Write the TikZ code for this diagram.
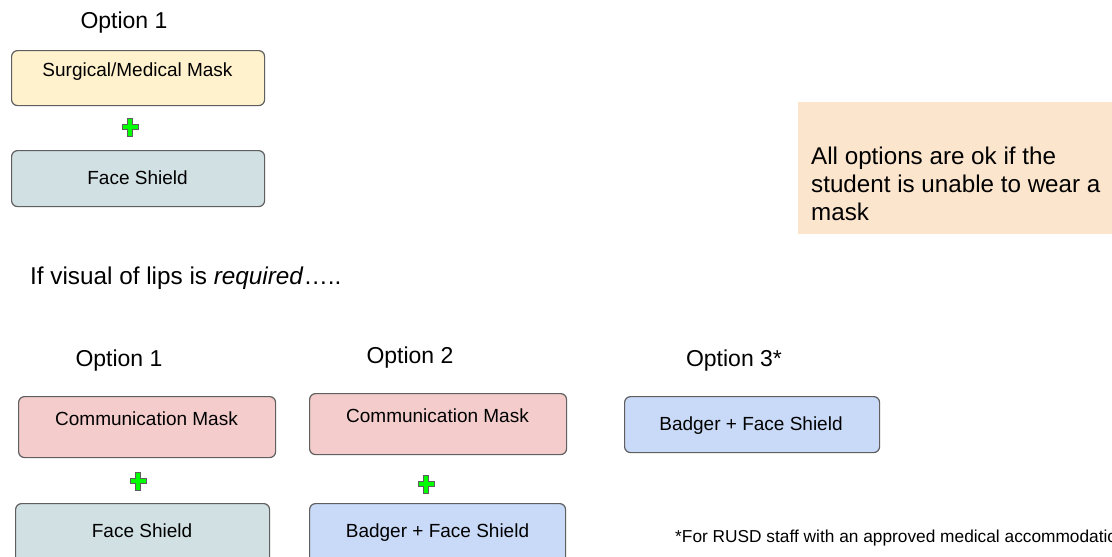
\documentclass[tikz,border=0pt]{standalone}
\usepackage{fontspec}
\setmainfont{Liberation Sans}
\definecolor{maskyellow}{HTML}{FFF2CC}
\definecolor{shieldgray}{HTML}{D0E0E3}
\definecolor{commred}{HTML}{F4CCCC}
\definecolor{badgerblue}{HTML}{C9DAF8}
\definecolor{noteorange}{HTML}{FCE5CD}
\definecolor{edgegray}{HTML}{5F5F5F}
\definecolor{plusgreen}{HTML}{00FF00}
\tikzset{
  itembox/.style={draw=edgegray, line width=1.2pt, rounded corners=6pt,
    anchor=north west, inner sep=0pt},
  itemtext/.style={anchor=base, inner sep=0pt, font=\fontsize{19}{22}\selectfont},
  optiontext/.style={anchor=base, inner sep=0pt, font=\fontsize{23}{27}\selectfont},
  plusmark/.style={fill=plusgreen, draw=edgegray, line width=0.9pt},
}
% green plus sign centred at (#1,#2)
\newcommand{\plusat}[2]{%
  \draw[plusmark, shift={(#1,#2)}]
    (-2.8,-9) -- (2.8,-9) -- (2.8,-2.8) -- (8,-2.8) -- (8,2.8) -- (2.8,2.8)
    -- (2.8,9) -- (-2.8,9) -- (-2.8,2.8) -- (-8,2.8) -- (-8,-2.8) -- (-2.8,-2.8) -- cycle;}
\begin{document}
\begin{tikzpicture}[x=1pt,y=-1pt]
\useasboundingbox (0,0) rectangle (1112,557);
\clip (0,0) rectangle (1112,557);
\fill[white] (0,0) rectangle (1112,557);

% ---- top group: general option
\node[optiontext] (optA) at (124,28) {Option 1};
\node[itembox, fill=maskyellow, minimum width=253pt, minimum height=55pt] (surg) at (11,50) {};
\node[itemtext] (surgT) at (137.5,76) {Surgical/Medical Mask};
\plusat{130}{127}
\node[itembox, fill=shieldgray, minimum width=253pt, minimum height=56pt] (shA) at (11,150) {};
\node[itemtext] (shAT) at (137.5,184) {Face Shield};

% ---- note on the right
\fill[noteorange] (798,102) rectangle (1130,234);
\node[anchor=base west, inner sep=0pt, align=left,
      font=\fontsize{24.2}{27.8}\selectfont] (note) at (811,220.5)
  {All options are ok if the\\student is unable to wear a\\mask};

% ---- heading for the lower group
\node[anchor=base west, inner sep=0pt, font=\fontsize{24.3}{28}\selectfont] (lips) at (30,284)
  {If visual of lips is \textit{required}…..};

% ---- option 1
\node[optiontext] (optB) at (119,366) {Option 1};
\node[itembox, fill=commred, minimum width=257pt, minimum height=61pt] (cmB) at (18,396) {};
\node[itemtext] (cmBT) at (146.5,425) {Communication Mask};
\plusat{138}{481}
\node[itembox, fill=shieldgray, minimum width=254pt, minimum height=70pt] (shB) at (15,503) {};
\node[itemtext] (shBT) at (142,537) {Face Shield};

% ---- option 2
\node[optiontext] (optC) at (410,363) {Option 2};
\node[itembox, fill=commred, minimum width=257pt, minimum height=61pt] (cmC) at (309,393) {};
\node[itemtext] (cmCT) at (437.5,422) {Communication Mask};
\plusat{426}{484}
\node[itembox, fill=badgerblue, minimum width=256pt, minimum height=70pt] (bgC) at (309,503) {};
\node[itemtext] (bgCT) at (437.5,537) {Badger + Face Shield};

% ---- option 3
\node[optiontext] (optD) at (734,366) {Option 3*};
\node[itembox, fill=badgerblue, minimum width=255pt, minimum height=56pt] (bgD) at (624,396) {};
\node[itemtext] (bgDT) at (751,430) {Badger + Face Shield};

% ---- footnote
\node[anchor=base west, inner sep=0pt, font=\fontsize{17.3}{20}\selectfont] (foot) at (675,542)
  {*For RUSD staff with an approved medical accommodation};
\end{tikzpicture}
\end{document}
